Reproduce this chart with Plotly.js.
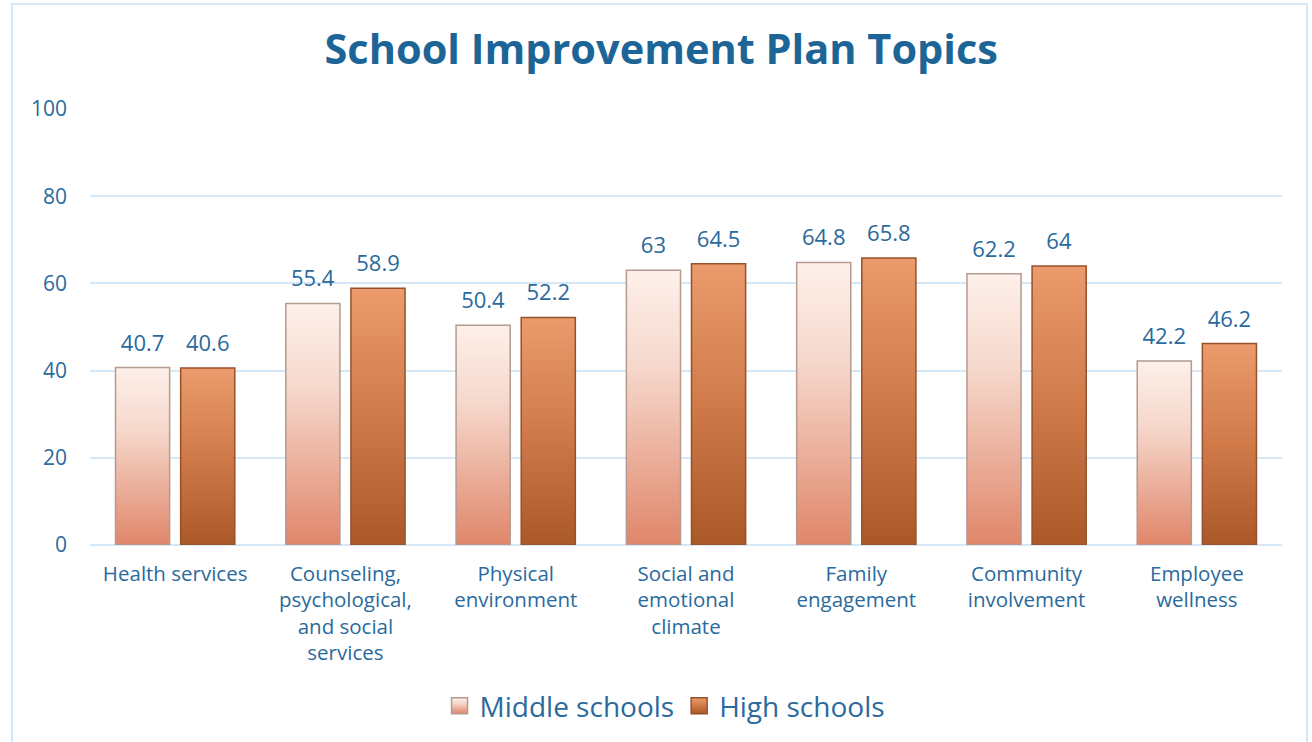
<!DOCTYPE html>
<html>
<head>
<meta charset="utf-8">
<script src="https://cdn.plot.ly/plotly-3.0.1.min.js"></script>
<style>
  html, body { margin: 0; padding: 0; background: #ffffff; }
  #wrap { position: relative; width: 1312px; height: 742px; overflow: hidden; background: #fff; }
  #frame { position: absolute; left: 11px; top: 3px; width: 1297px; height: 760px;
           border: 2px solid #d5e8f7; box-sizing: border-box; pointer-events: none; }
  #chart { position: absolute; left: 0; top: 0; width: 1312px; height: 742px; }
</style>
</head>
<body>
<div id="wrap">
  <div id="chart"></div>
  <div id="frame"></div>
</div>
<script>
const categories = [
  "Health services",
  "Counseling,<br>psychological,<br>and social<br>services",
  "Physical<br>environment",
  "Social and<br>emotional<br>climate",
  "Family<br>engagement",
  "Community<br>involvement",
  "Employee<br>wellness"
];
const middleSchools = [40.7, 55.4, 50.4, 63, 64.8, 62.2, 42.2];
const highSchools = [40.6, 58.9, 52.2, 64.5, 65.8, 64, 46.2];
const seriesNames = ["Middle schools", "High schools"];
const yTicks = [0, 20, 40, 60, 80, 100];

const FONT = "'Open Sans', 'Noto Sans', sans-serif";
const TXT = "#2a6a9c";

const traces = [
  {
    type: "bar", name: seriesNames[0], x: categories, y: middleSchools,
    text: middleSchools.map(String), textposition: "outside", cliponaxis: false,
    textfont: {family: FONT, size: 22, color: TXT},
    marker: {color: "#f0b9a3", line: {color: "#b49a90", width: 1.5}},
    hoverinfo: "skip"
  },
  {
    type: "bar", name: seriesNames[1], x: categories, y: highSchools,
    text: highSchools.map(String), textposition: "outside", cliponaxis: false,
    textfont: {family: FONT, size: 22, color: TXT},
    marker: {color: "#cf7646", line: {color: "#95512c", width: 1.5}},
    hoverinfo: "skip"
  }
];

const layout = {
  width: 1312, height: 742,
  paper_bgcolor: "rgba(0,0,0,0)", plot_bgcolor: "rgba(0,0,0,0)",
  margin: {l: 90, r: 30, t: 109, b: 196},
  font: {family: FONT, color: TXT},
  title: {
    text: "<b>School Improvement Plan Topics</b>",
    font: {family: FONT, size: 41.5, color: "#1d6596"},
    x: 0.504, xref: "container", xanchor: "center",
    y: 0.933, yref: "container", yanchor: "middle"
  },
  barmode: "group", bargap: 0.235, bargroupgap: 0.169,
  xaxis: {
    type: "category", showgrid: false, zeroline: false, showline: false,
    ticks: "", tickfont: {family: FONT, size: 20.5, color: TXT},
    tickangle: 0, automargin: false, ticklabelstandoff: 14
  },
  yaxis: {
    range: [0, 100], tickvals: yTicks, ticktext: yTicks.map(String),
    showgrid: true, gridcolor: "#d5e8f7", gridwidth: 2,
    zeroline: true, zerolinecolor: "#d5e8f7", zerolinewidth: 2,
    showline: false, ticks: "", ticklabelstandoff: 22,
    tickfont: {family: FONT, size: 21, color: TXT}, automargin: false
  },
  showlegend: true,
  legend: {
    orientation: "h", x: 0.482, xanchor: "center", xref: "paper",
    y: -0.366, yanchor: "middle",
    font: {family: FONT, size: 28, color: TXT},
    itemwidth: 30, traceorder: "normal"
  }
};

function addGradients(gd) {
  const svg = gd.querySelector("svg.main-svg");
  if (!svg) return;
  const ns = "http://www.w3.org/2000/svg";
  let defs = svg.querySelector("defs");
  if (!defs) { defs = document.createElementNS(ns, "defs"); svg.insertBefore(defs, svg.firstChild); }
  const grads = {
    gMid: [["0%", "#fdf0ea"], ["35%", "#f6d8cc"], ["100%", "#e0866a"]],
    gHigh: [["0%", "#eb9b6c"], ["50%", "#d07a4a"], ["100%", "#ab5828"]]
  };
  Object.keys(grads).forEach(id => {
    const lg = document.createElementNS(ns, "linearGradient");
    lg.setAttribute("id", id);
    lg.setAttribute("x1", "0"); lg.setAttribute("y1", "0");
    lg.setAttribute("x2", "0"); lg.setAttribute("y2", "1");
    grads[id].forEach(s => {
      const st = document.createElementNS(ns, "stop");
      st.setAttribute("offset", s[0]); st.setAttribute("stop-color", s[1]);
      lg.appendChild(st);
    });
    defs.appendChild(lg);
  });
  const ids = ["gMid", "gHigh"];
  gd.querySelectorAll(".barlayer .trace.bars").forEach((tr, i) => {
    tr.querySelectorAll(".point path").forEach(p => { p.style.fill = "url(#" + ids[i] + ")"; });
    tr.querySelectorAll(".point text").forEach(t => {
      const tf = t.getAttribute("transform") || "";
      t.setAttribute("transform", "translate(0,-8) " + tf);
    });
  });
  gd.querySelectorAll(".legend .traces").forEach((tr, i) => {
    tr.querySelectorAll(".legendpoints path").forEach(p => {
      p.style.fill = "url(#" + ids[i] + ")";
      p.setAttribute("d", "M-8,-8H8V8H-8Z");
    });
  });
}

Plotly.newPlot("chart", traces, layout, {staticPlot: true, displayModeBar: false})
  .then(gd => addGradients(gd));
</script>
</body>
</html>
